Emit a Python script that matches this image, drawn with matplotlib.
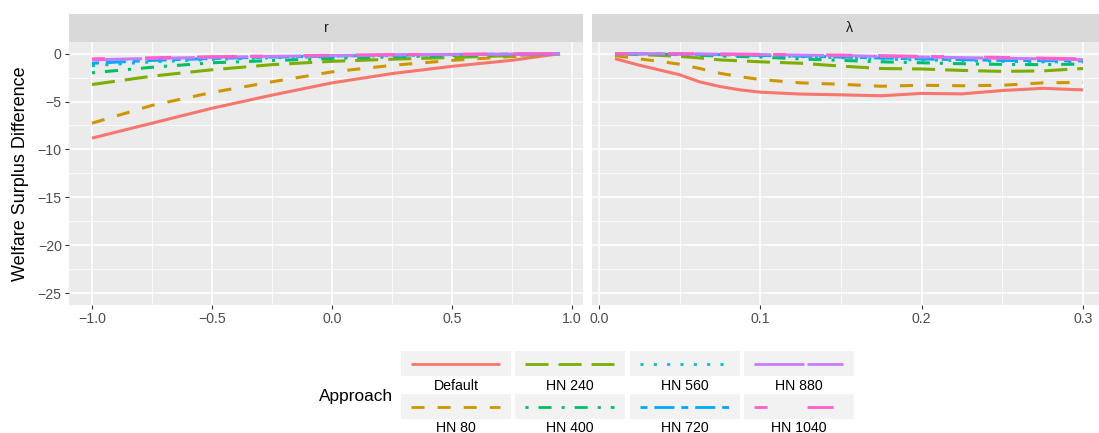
import matplotlib
matplotlib.use("Agg")
import matplotlib.pyplot as plt
from matplotlib.patches import Rectangle

plt.rcParams['font.family'] = ['Liberation Sans', 'DejaVu Sans']
plt.rcParams['lines.scale_dashes'] = False

# series names, colours (ggplot hue palette) and line types
approaches = ['Default', 'HN 80', 'HN 240', 'HN 400', 'HN 560', 'HN 720', 'HN 880', 'HN 1040']
colors = ['#F8766D', '#CD9600', '#7CAE00', '#00BE67', '#00BFC4', '#00A9FF', '#C77CFF', '#FF61CC']
dashes = [None, (9.4, 9.4), (16.6, 7.2), (2.2, 7.2, 9.4, 7.2), (2.2, 7.4),
          (5, 5, 14.4, 5), (36, 2.2), (9.4, 28.8, 18.7, 18.7, 28.8, 9.4)]

# panel r
r_vals = [-1.0, -0.75, -0.5, -0.25, 0.0, 0.25, 0.5, 0.75, 0.95]
r_default = [-8.82, -7.26, -5.7, -4.33, -3.05, -2.08, -1.32, -0.69, 0.0]
r_hn80 = [-7.26, -5.4, -4.05, -2.94, -1.9, -1.22, -0.7, -0.3, 0.0]
r_hn240 = [-3.22, -2.35, -1.68, -1.15, -0.8, -0.58, -0.4, -0.2, 0.0]
r_hn400 = [-2.0, -1.42, -0.95, -0.72, -0.5, -0.33, -0.2, -0.1, 0.0]
r_hn560 = [-1.25, -0.85, -0.6, -0.42, -0.3, -0.2, -0.12, -0.06, 0.0]
r_hn720 = [-1.0, -0.7, -0.5, -0.35, -0.25, -0.16, -0.1, -0.05, 0.0]
r_hn880 = [-0.65, -0.5, -0.38, -0.28, -0.2, -0.13, -0.08, -0.04, 0.0]
r_hn1040 = [-0.55, -0.43, -0.32, -0.24, -0.17, -0.11, -0.07, -0.03, 0.0]

# panel lambda
lam_vals = [0.01, 0.025, 0.0375, 0.05, 0.0625, 0.075, 0.0875, 0.1, 0.125, 0.15,
            0.175, 0.2, 0.225, 0.25, 0.275, 0.3]
lam_default = [-0.52, -1.2, -1.7, -2.2, -2.95, -3.43, -3.78, -4.02, -4.22, -4.3,
               -4.4, -4.15, -4.2, -3.85, -3.62, -3.78]
lam_hn80 = [-0.2, -0.55, -0.8, -1.1, -1.55, -2.05, -2.4, -2.7, -3.05, -3.2,
            -3.4, -3.3, -3.35, -3.3, -3.05, -3.0]
lam_hn240 = [0.0, -0.1, -0.18, -0.28, -0.45, -0.65, -0.75, -0.85, -1.0, -1.3,
             -1.55, -1.6, -1.75, -1.85, -1.8, -1.55]
lam_hn400 = [0.0, -0.02, -0.05, -0.1, -0.17, -0.25, -0.3, -0.35, -0.55, -0.7,
             -0.85, -0.95, -1.05, -1.12, -1.15, -1.08]
lam_hn560 = [0.0, -0.01, -0.03, -0.05, -0.08, -0.12, -0.16, -0.2, -0.3, -0.42,
             -0.55, -0.65, -0.72, -0.8, -0.85, -0.85]
lam_hn720 = [0.0, -0.01, -0.02, -0.04, -0.07, -0.1, -0.14, -0.18, -0.26, -0.35,
             -0.45, -0.55, -0.62, -0.7, -0.73, -0.75]
lam_hn880 = [0.0, 0.0, -0.01, -0.02, -0.03, -0.05, -0.07, -0.1, -0.15, -0.2,
             -0.28, -0.35, -0.42, -0.48, -0.55, -0.63]
lam_hn1040 = [0.0, 0.0, -0.01, -0.02, -0.03, -0.04, -0.06, -0.08, -0.11, -0.15,
              -0.21, -0.28, -0.34, -0.4, -0.47, -0.55]

r_series = [r_default, r_hn80, r_hn240, r_hn400, r_hn560, r_hn720, r_hn880, r_hn1040]
lam_series = [lam_default, lam_hn80, lam_hn240, lam_hn400, lam_hn560, lam_hn720, lam_hn880, lam_hn1040]

W, H = 1099, 433
fig = plt.figure(figsize=(W / 100, H / 100), dpi=100)

def box(x0, y0, x1, y1):
    return [x0 / W, 1 - y1 / H, (x1 - x0) / W, (y1 - y0) / H]

ax1 = fig.add_axes(box(68.6, 41.7, 583.4, 305))
ax2 = fig.add_axes(box(591.6, 41.7, 1106.4, 305), sharey=ax1)

for ax, xs, series in [(ax1, r_vals, r_series), (ax2, lam_vals, lam_series)]:
    ax.set_facecolor('#EBEBEB')
    for s in ax.spines.values():
        s.set_visible(False)
    for i in range(len(approaches)):
        ln, = ax.plot(xs, series[i], color=colors[i], lw=2.2,
                      solid_capstyle='butt', dash_capstyle='butt', solid_joinstyle='round')
        if dashes[i] is not None:
            ln.set_dashes(dashes[i])
    ax.grid(True, which='major', color='white', lw=1.1)
    ax.grid(True, which='minor', color='white', lw=0.55)
    ax.set_axisbelow(True)
    ax.tick_params(which='major', length=3, width=0.8, color='#333333',
                   labelcolor='#4D4D4D', labelsize=10.2, pad=2)
    ax.tick_params(which='minor', length=0)

ax1.set_xlim(-1.0975, 1.0475)
ax1.set_xticks([-1.0, -0.5, 0.0, 0.5, 1.0])
ax1.set_xticklabels(['\u22121.0', '\u22120.5', '0.0', '0.5', '1.0'])
ax1.set_xticks([-0.75, -0.25, 0.25, 0.75], minor=True)
ax1.set_ylim(-26.25, 1.25)
ax1.set_yticks([0, -5, -10, -15, -20, -25])
ax1.set_yticklabels(['0', '\u22125', '\u221210', '\u221215', '\u221220', '\u221225'])
ax1.set_yticks([-2.5, -7.5, -12.5, -17.5, -22.5], minor=True)
ax1.set_ylabel('Welfare Surplus Difference', fontsize=13, color='black', labelpad=6)

ax2.set_xlim(-0.0045, 0.3145)
ax2.set_xticks([0.0, 0.1, 0.2, 0.3])
ax2.set_xticklabels(['0.0', '0.1', '0.2', '0.3'])
ax2.set_xticks([0.05, 0.15, 0.25], minor=True)
ax2.tick_params(axis='y', which='both', length=0, labelleft=False)

# facet strips
for (x0, x1), lab in [((68.6, 583.4), 'r'), ((591.6, 1106.4), '\u03bb')]:
    sax = fig.add_axes(box(x0, 14, x1, 41.7))
    sax.set_facecolor('#D9D9D9')
    sax.set_xticks([])
    sax.set_yticks([])
    for s in sax.spines.values():
        s.set_visible(False)
    sax.text(0.5, 0.5, lab, ha='center', va='center', fontsize=10.2, color='#1A1A1A',
             transform=sax.transAxes)

# legend at the bottom, labels under the keys, filled by column
lax = fig.add_axes([0, 0, 1, 1])
lax.set_xlim(0, W)
lax.set_ylim(H, 0)
lax.axis('off')
lax.patch.set_alpha(0)
col_left = [401, 515, 630, 744]
row_top = [351, 394]
for i in range(len(approaches)):
    c, r = i // 2, i % 2
    x0, y0 = col_left[c], row_top[r]
    lax.add_patch(Rectangle((x0, y0), 110, 25, facecolor='#F2F2F2', edgecolor='none'))
    ln, = lax.plot([x0 + 10, x0 + 99], [y0 + 12.5, y0 + 12.5], color=colors[i], lw=2.0,
                   solid_capstyle='butt', dash_capstyle='butt')
    if dashes[i] is not None:
        ln.set_dashes(dashes[i])
    lax.text(x0 + 55, y0 + 34.5, approaches[i], ha='center', va='center', fontsize=10.2,
             color='black')
lax.text(393, 396, 'Approach', ha='right', va='center', fontsize=12.4, color='black')

fig.savefig('out.png', dpi=100)
